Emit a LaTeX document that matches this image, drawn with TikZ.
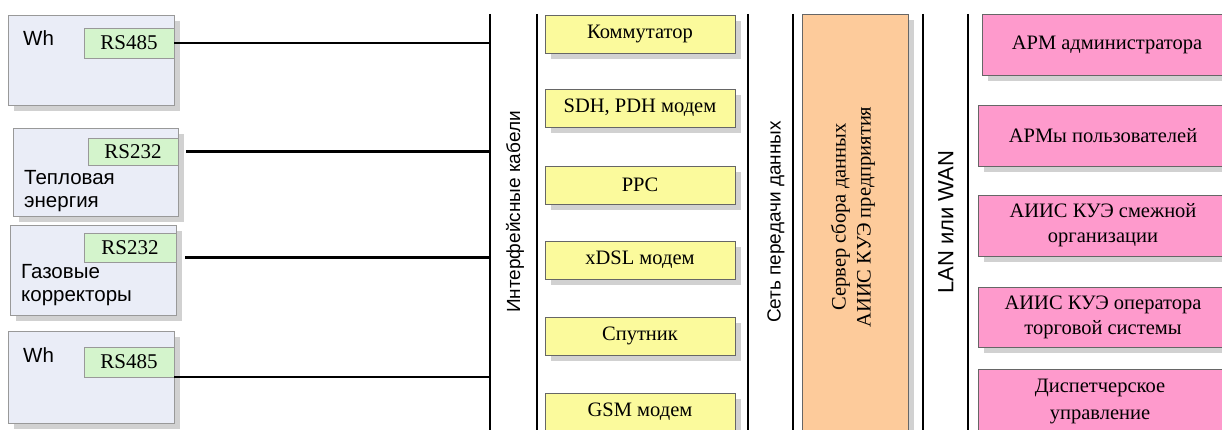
\documentclass[tikz,border=0pt]{standalone}
\usepackage{fontspec}
\setmainfont{Liberation Serif}
\setsansfont{Liberation Sans}
\usetikzlibrary{shadows}

\definecolor{meterfill}{HTML}{EAEDF7}
\definecolor{portfill}{HTML}{D4F4CC}
\definecolor{chanfill}{HTML}{FBFA9C}
\definecolor{srvfill}{HTML}{FDCB9B}
\definecolor{userfill}{HTML}{FE9ACC}

\tikzset{
  shade box/.style={drop shadow={shadow xshift=6pt, shadow yshift=-6pt, fill=black!40, opacity=.45}},
  meter/.style={draw=gray!80, fill=meterfill, anchor=north west, inner sep=0pt, outer sep=0pt,
    minimum width=166pt, shade box},
  port/.style={draw=gray!80, fill=portfill, anchor=north west, inner sep=0pt, outer sep=0pt,
    minimum width=90pt, minimum height=30pt, font=\fontsize{21}{21}\selectfont},
  meterlabel/.style={anchor=base west, inner sep=0pt, align=left, font=\sffamily\fontsize{20.5}{23}\selectfont},
  chan/.style={draw=gray!80!black, fill=chanfill, anchor=north west, inner sep=0pt, outer sep=0pt,
    minimum width=190pt, minimum height=38pt, font=\fontsize{20.5}{21}\selectfont, shade box},
  user/.style={draw=gray!80!black, fill=userfill, anchor=north west, inner sep=0pt, outer sep=0pt,
    minimum width=250pt, minimum height=61pt, align=center, font=\fontsize{20.5}{25}\selectfont, shade box},
  bus/.style={line width=2.6pt},
  wire/.style={line width=2.6pt},
  vlabel/.style={rotate=90, font=\sffamily\fontsize{19}{19}\selectfont}
}

\begin{document}
\begin{tikzpicture}[x=1pt,y=-1pt]
\clip (0,0) rectangle (1222,430);
\fill[white] (0,0) rectangle (1222,430);

% counters and correctors
\node[meter, minimum height=90pt] (m1) at (8,15) {};
\node[meter, minimum height=88pt, minimum width=165pt] (m2) at (13,128) {};
\node[meter, minimum height=90pt] (m3) at (10,225) {};
\node[meter, minimum height=92pt] (m4) at (8,331) {};

\node[port] (p1) at (84,28) {RS485};
\node[port, minimum height=27pt] (p2) at (88,138) {RS232};
\node[port, minimum height=29pt, minimum width=92pt] (p3) at (84,233) {RS232};
\node[port] (p4) at (84,347) {RS485};

\node[meterlabel] (t1) at (23,46) {Wh};
\node[meterlabel] (t2) at (24,208) {Тепловая\\энергия};
\node[meterlabel] (t3) at (21,301) {Газовые\\корректоры};
\node[meterlabel] (t4) at (23,362) {Wh};

% buses
\coordinate (cab top) at (490,14);   \coordinate (cab bot) at (490,430);
\coordinate (cab2 top) at (537,14);  \coordinate (cab2 bot) at (537,430);
\coordinate (net top) at (748,14);   \coordinate (net bot) at (748,430);
\coordinate (net2 top) at (793,14);  \coordinate (net2 bot) at (793,430);
\coordinate (lan top) at (923,14);   \coordinate (lan bot) at (923,430);
\coordinate (lan2 top) at (968,14);  \coordinate (lan2 bot) at (968,430);
\foreach \a in {cab, cab2, net, net2, lan, lan2}
  \draw[bus] (\a\space top) -- (\a\space bot);

\coordinate (w2) at ([xshift=8pt]p2.east);
\coordinate (w3) at ([shift={(9,10)}]p3.east);
\draw[wire] (p1.east) -- (p1.east -| cab top);
\draw[wire] (w2) -- (w2 -| cab top);
\draw[wire] (w3) -- (w3 -| cab top);
\draw[line width=1.8pt] (p4.south east) -- (p4.south east -| cab top);

\node[vlabel] (l1) at (515,212) {Интерфейсные кабели};
\node[vlabel] (l2) at (776,222) {Сеть передачи данных};
\node[vlabel, font=\sffamily\fontsize{22}{22}\selectfont] (l3) at (946,222) {LAN или WAN};

% channels
\foreach \n/\y/\t in {c1/15/Коммутатор, c2/89/{SDH, PDH модем}, c3/166/PPC,
    c4/241/xDSL модем, c5/317/Спутник, c6/393/GSM модем}
  \node[chan] (\n) at (545,\y) {\t};

% server
\node[draw=gray!80!black, fill=srvfill, anchor=north west, inner sep=0pt, outer sep=0pt,
  minimum width=106pt, minimum height=440pt, shade box] (srv) at (802,14) {};
\node[rotate=90, align=center, font=\fontsize{20.5}{25}\selectfont] (srvt) at (853,217)
  {Сервер сбора данных\\АИИС КУЭ предприятия};

% users
\node[user] (u1) at (982,14) {АРМ администратора};
\node[user] (u2) at (978,105) {АРМы пользователей};
\node[user] (u3) at (978,195) {АИИС КУЭ смежной\\организации};
\node[user, minimum height=60pt] (u4) at (978,287) {АИИС КУЭ оператора\\торговой системы};
\node[user, minimum height=80pt] (u5) at (978,369) {};
\node[align=center, font=\fontsize{20.5}{27}\selectfont] (u5t) at (1100,401)
  {Диспетчерское\\управление};
\end{tikzpicture}
\end{document}
